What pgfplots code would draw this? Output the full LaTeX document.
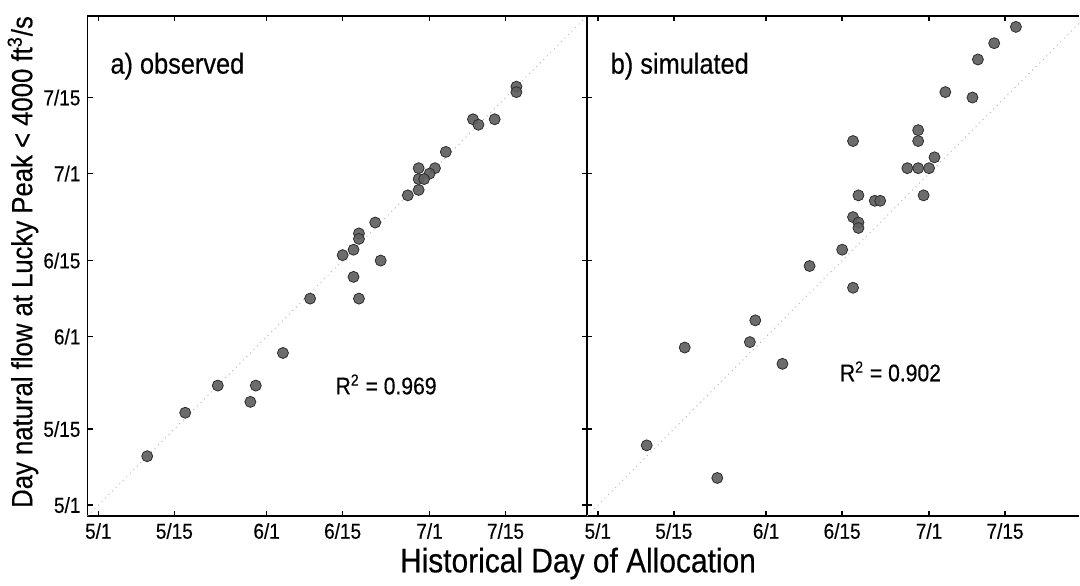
\documentclass[border=0pt]{standalone}
\usepackage{fontspec}
\setmainfont{Liberation Sans}[FakeStretch=0.88, FakeBold=0.4]
\usepackage{pgfplots}
\pgfplotsset{compat=1.18}
\definecolor{mfill}{RGB}{95,95,95}
\definecolor{medge}{RGB}{45,45,45}

\pgfplotstableread{
x y
77 77
77 76
69 71
70 70
73 71
64 65
59 62
62 62
61 61
59 60
60 60
59 58
57 57
51 52
48 50
48 49
47 47
45 46
52 45
47 42
48 38
39 38
34 28
22 22
29 22
28 19
16 17
9 9
}\observed

\pgfplotstableread{
x y
77 88
73 85
70 82
64 76
69 75
59 69
59 67
47 67
62 64
57 62
59 62
61 62
48 57
60 57
51 56
52 56
47 53
48 52
48 51
45 47
39 44
47 40
29 34
28 30
16 29
34 26
9 11
22 5
}\simulated

\pgfplotsset{
  panel/.style={
    scale only axis,
    height=250pt,
    ymin=-2, ymax=90,
    xmin=-2,
    xtick={0,14,31,45,61,75},
    xticklabels={5/1,5/15,6/1,6/15,7/1,7/15},
    ytick={0,14,31,45,61,75},
    tick align=inside,
    major tick length=2.6pt,
    every tick/.style={black, line width=0.7pt},
    axis line style={black, line width=0.75pt},
    ticklabel style={font=\fontsize{10.8}{12}\selectfont},
    clip=true,
  },
  pts/.style={only marks, mark=*, mark size=2.75pt,
    mark options={fill=mfill, draw=medge, line width=0.4pt, fill opacity=0.92}},
  diag/.style={gray!55, dotted, line width=0.5pt, forget plot},
}
\tikzset{
  plabel/.style={anchor=base west, inner sep=0pt, font=\fontsize{14.4}{16}\selectfont},
  rlabel/.style={font=\fontsize{12}{14}\selectfont},
}

\begin{document}
\begin{tikzpicture}
\begin{axis}[panel,
  name=L, at={(0,0)}, anchor=south west,
  width=249.75pt, xmax=90,
  yticklabels={5/1,5/15,6/1,6/15,7/1,7/15},
  ylabel={Day natural flow at Lucky Peak < 4000 ft\textsuperscript{3}/s},
  ylabel style={at={([xshift=-32.3pt]axis description cs:0,0.508)}, anchor=center, rotate=0,
    font=\fontsize{14.6}{16}\selectfont},
  xlabel={Historical Day of Allocation},
  xlabel style={at={([yshift=-28.15pt]axis description cs:0.982,0)}, anchor=base,
    font=\fontsize{17}{19}\selectfont},
]
\addplot[diag] coordinates {(-2,-2) (90,90)};
\addplot[pts] table[x=x,y=y] {\observed};
\node[plabel] at (axis cs:2.15,79.4) {a) observed};
\node[rlabel] at (axis cs:53,22.2) {R\textsuperscript{2} = 0.969};
\end{axis}
\begin{axis}[panel,
  name=R, at={(L.south east)}, anchor=south west,
  width=246.25pt, xmax=88.71,
  yticklabels={},
  axis x line*=box, axis y line*=left,
]
\addplot[diag] coordinates {(-2,-2) (90,90)};
\addplot[pts] table[x=x,y=y] {\simulated};
\node[plabel] at (axis cs:2.3,79.4) {b) simulated};
\node[rlabel] at (axis cs:53.9,24.6) {R\textsuperscript{2} = 0.902};
\end{axis}
\pgfresetboundingbox
\useasboundingbox (-43.75pt,-34.5pt) rectangle (496.25pt,258pt);
\end{tikzpicture}
\end{document}
